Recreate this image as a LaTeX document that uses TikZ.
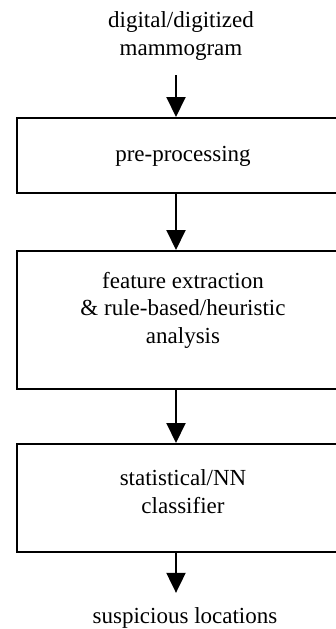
\documentclass[tikz,border=0pt]{standalone}
\usepackage{fontspec}
\setmainfont{Liberation Serif}
\usetikzlibrary{arrows.meta}
\begin{document}
\begin{tikzpicture}[x=1pt,y=-1pt,
    every node/.style={font=\fontsize{23}{27.5}\selectfont,inner sep=0pt,align=center},
    stagebox/.style={draw,line width=2pt,minimum width=332pt,anchor=north west},
    flow/.style={line width=2pt,-{Triangle[length=20pt,width=19pt]}}]
  \useasboundingbox (0,0) rectangle (336,629);
  \clip (0,0) rectangle (336,629);
  \coordinate (ax) at (176,0);
  \node[anchor=base] (in) at (181,55) {digital/digitized\\mammogram};
  \node[stagebox,text height=43pt,text depth=32pt] (pre) at (16,117) {pre-processing};
  \node[stagebox,text height=92pt,text depth=46pt] (feat) at (16,250)
    {feature extraction\\\& rule-based/heuristic\\analysis};
  \node[stagebox,text height=69pt,text depth=39pt] (cls) at (16,443)
    {statistical/NN\\classifier};
  \node[anchor=base] (out) at (185,623) {suspicious locations};
  \begin{scope}[flow]
    \draw[shorten <=15pt] (in.south -| ax) to (pre.north -| ax);
    \draw (pre.south -| ax) to (feat.north -| ax);
    \draw (feat.south -| ax) to (cls.north -| ax);
    \draw[shorten >=14pt] (cls.south -| ax) to (out.north -| ax);
  \end{scope}
\end{tikzpicture}
\end{document}
